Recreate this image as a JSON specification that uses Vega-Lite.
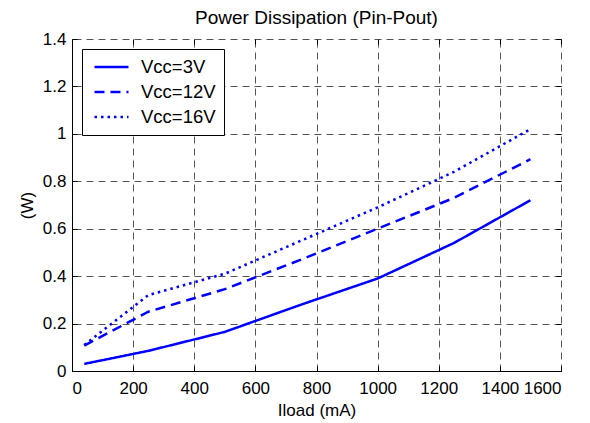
{
  "$schema": "https://vega.github.io/schema/vega-lite/v6.json",
  "autosize": {"type": "none"},
  "padding": {"left": 72, "top": 39, "right": 29, "bottom": 52},
  "width": 489,
  "height": 332,
  "background": "white",
  "title": {"text": "Power Dissipation (Pin-Pout)", "font": "Liberation Sans", "fontSize": 19, "fontWeight": "normal", "color": "black", "offset": 2},
  "config": {
    "view": {"stroke": null},
    "axis": {
      "labelFont": "Liberation Sans", "labelFontSize": 17, "labelColor": "black",
      "titleFont": "Liberation Sans", "titleFontSize": 17, "titleFontWeight": "normal", "titleColor": "black",
      "domainColor": "black", "tickColor": "black", "tickSize": -5,
      "gridColor": "#555555", "gridDash": [7, 5], "gridOpacity": 1, "gridWidth": 1
    }
  },
  "data": {
    "values": [
      {"Iload": 40, "P": 0.030, "series": "Vcc=3V"},
      {"Iload": 250, "P": 0.085, "series": "Vcc=3V"},
      {"Iload": 500, "P": 0.165, "series": "Vcc=3V"},
      {"Iload": 750, "P": 0.28, "series": "Vcc=3V"},
      {"Iload": 1000, "P": 0.39, "series": "Vcc=3V"},
      {"Iload": 1250, "P": 0.54, "series": "Vcc=3V"},
      {"Iload": 1500, "P": 0.72, "series": "Vcc=3V"},
      {"Iload": 40, "P": 0.107, "series": "Vcc=12V"},
      {"Iload": 250, "P": 0.25, "series": "Vcc=12V"},
      {"Iload": 500, "P": 0.345, "series": "Vcc=12V"},
      {"Iload": 750, "P": 0.47, "series": "Vcc=12V"},
      {"Iload": 1000, "P": 0.60, "series": "Vcc=12V"},
      {"Iload": 1250, "P": 0.73, "series": "Vcc=12V"},
      {"Iload": 1500, "P": 0.893, "series": "Vcc=12V"},
      {"Iload": 40, "P": 0.11, "series": "Vcc=16V"},
      {"Iload": 250, "P": 0.32, "series": "Vcc=16V"},
      {"Iload": 500, "P": 0.41, "series": "Vcc=16V"},
      {"Iload": 750, "P": 0.55, "series": "Vcc=16V"},
      {"Iload": 1000, "P": 0.69, "series": "Vcc=16V"},
      {"Iload": 1250, "P": 0.84, "series": "Vcc=16V"},
      {"Iload": 1500, "P": 1.02, "series": "Vcc=16V"}
    ]
  },
  "resolve": {"axis": {"x": "independent", "y": "independent"}},
  "layer": [
    {
      "mark": {"type": "point", "opacity": 0},
      "encoding": {
        "x": {"field": "Iload", "type": "quantitative",
          "scale": {"domain": [0, 1600], "nice": false},
          "axis": {"orient": "top", "values": [0, 200, 400, 600, 800, 1000, 1200, 1400, 1600], "labels": false, "domain": false, "grid": true, "title": null}},
        "y": {"field": "P", "type": "quantitative",
          "scale": {"domain": [0, 1.4], "nice": false},
          "axis": {"orient": "right", "values": [0, 0.2, 0.4, 0.6, 0.8, 1, 1.2, 1.4], "labels": false, "domain": false, "grid": true, "title": null}}
      }
    },
    {
      "mark": {"type": "line", "color": "#0000ff", "strokeWidth": 2.5},
      "encoding": {
        "x": {"field": "Iload", "type": "quantitative", "title": "Iload (mA)",
          "scale": {"domain": [0, 1600], "nice": false},
          "axis": {"values": [0, 200, 400, 600, 800, 1000, 1200, 1400, 1600], "grid": false, "labelPadding": 14, "titlePadding": 6, "format": "d"}},
        "y": {"field": "P", "type": "quantitative", "title": "(W)",
          "scale": {"domain": [0, 1.4], "nice": false},
          "axis": {"values": [0, 0.2, 0.4, 0.6, 0.8, 1, 1.2, 1.4], "grid": false, "labelPadding": 11, "titlePadding": 6, "format": "~g"}},
        "strokeDash": {"field": "series", "type": "nominal",
          "scale": {"domain": ["Vcc=3V", "Vcc=12V", "Vcc=16V"], "range": [[1, 0], [10, 6], [2.5, 4]]},
          "legend": {
            "title": null, "orient": "none", "legendX": 10, "legendY": 10,
            "fillColor": "white", "strokeColor": "black", "padding": 8,
            "symbolType": "M-1,0H3", "symbolSize": 289, "symbolStrokeColor": "#0000ff", "symbolStrokeWidth": 2.5,
            "symbolOffset": 3,
            "labelFont": "Liberation Sans", "labelFontSize": 18.5, "labelColor": "black", "labelOffset": 28,
            "rowPadding": 5
          }}
      }
    }
  ]
}
